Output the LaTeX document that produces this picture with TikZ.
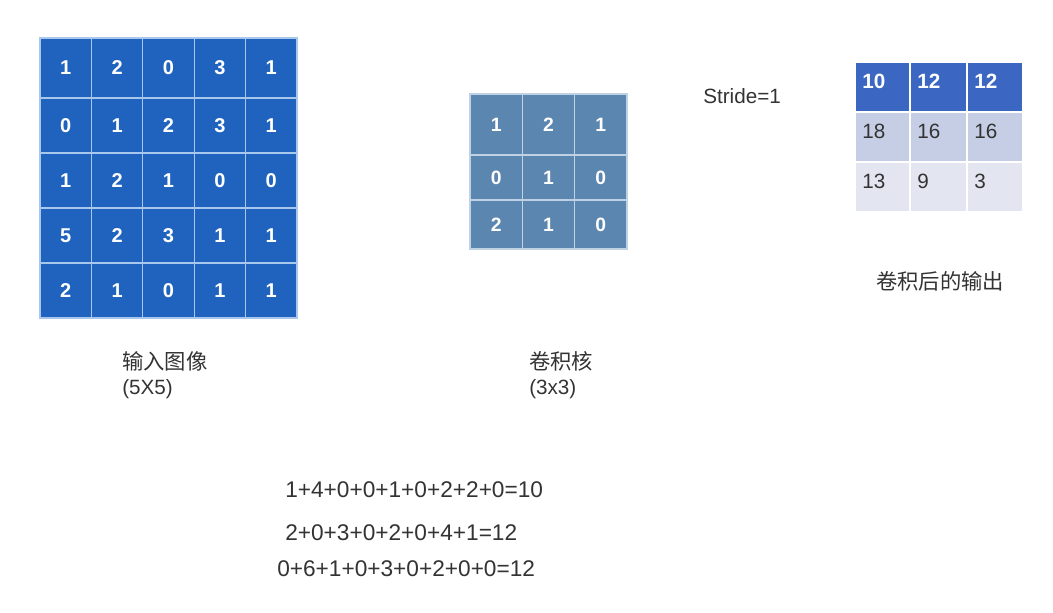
\documentclass[tikz,border=0pt]{standalone}
\usepackage{fontspec}
\setmainfont{Liberation Sans}
\newfontfamily\cjk{Noto Sans CJK SC}
\usetikzlibrary{calc}
\definecolor{inblue}{HTML}{1F63BF}
\definecolor{inline}{HTML}{A9C6EC}
\definecolor{kblue}{HTML}{5B86AF}
\definecolor{kline}{HTML}{BFD2E4}
\definecolor{ohead}{HTML}{3B66C2}
\definecolor{orow2}{HTML}{C6CEE6}
\definecolor{orow3}{HTML}{E3E6F1}
\definecolor{txt}{HTML}{333333}
\tikzset{
  cellbase/.style={rectangle, inner sep=0pt, outer sep=0pt, line width=1pt},
  incell/.style={cellbase, fill=inblue, draw=inline, text=white, font=\fontsize{15}{18}\selectfont\bfseries, minimum width=51.4*0.75pt},
  kcell/.style={cellbase, fill=kblue, draw=kline, text=white, font=\fontsize{14.5}{17}\selectfont\bfseries, minimum width=52.3*0.75pt},
  ocell/.style={cellbase, draw=white, minimum height=50*0.75pt},
  otxt1/.style={anchor=base west, inner sep=0pt, text=white, font=\fontsize{15.5}{18}\selectfont\bfseries},
  otxt/.style={anchor=base west, inner sep=0pt, text=txt, font=\fontsize{15.5}{18}\selectfont},
  lbl/.style={inner sep=0pt, text=txt, font=\fontsize{15.5}{18}\selectfont},
  eqlbl/.style={lbl, anchor=west, font=\fontsize{17}{20}\selectfont},
}
\begin{document}
\begin{tikzpicture}[x=0.75pt,y=0.75pt]
\useasboundingbox (0,0) rectangle (1053,-613);
% input image 5x5
\foreach \t/\b/\vals [count=\r] in {38/98/{1,2,0,3,1}, 98/153/{0,1,2,3,1}, 153/208/{1,2,1,0,0}, 208/263/{5,2,3,1,1}, 263/318/{2,1,0,1,1}}{
  \foreach \v [count=\c] in \vals {
    \node[incell, minimum height={(\b-\t)*0.75pt}] (in-\r-\c) at ({40+51.4*(\c-0.5)}, {-(\t+\b)/2}) {\v};
  }
}
% kernel 3x3
\foreach \t/\b/\vals [count=\r] in {94/155/{1,2,1}, 155/200/{0,1,0}, 200/249/{2,1,0}}{
  \foreach \v [count=\c] in \vals {
    \node[kcell, minimum height={(\b-\t)*0.75pt}] (k-\r-\c) at ({470+52.3*(\c-0.5)}, {-(\t+\b)/2}) {\v};
  }
}
% output 3x3
\foreach \l/\rr [count=\c] in {855/910, 910/967, 967/1023}{
  \node[ocell, fill=ohead, minimum width={(\rr-\l)*0.75pt}] (o-1-\c) at ({(\l+\rr)/2}, -87) {};
  \node[ocell, fill=orow2, minimum width={(\rr-\l)*0.75pt}] (o-2-\c) at ({(\l+\rr)/2}, -137) {};
  \node[ocell, fill=orow3, minimum width={(\rr-\l)*0.75pt}] (o-3-\c) at ({(\l+\rr)/2}, -187) {};
}
\foreach \v [count=\c] in {10,12,12}{
  \node[otxt1] (ot-1-\c) at ($(o-1-\c.west)+(7,-1.5)$) {\v};
}
\foreach \v [count=\c] in {18,16,16}{
  \node[otxt] (ot-2-\c) at ($(o-2-\c.west)+(7,-1.5)$) {\v};
}
\foreach \v [count=\c] in {13,9,3}{
  \node[otxt] (ot-3-\c) at ($(o-3-\c.west)+(7,-1.5)$) {\v};
}
% labels
\node[lbl, anchor=west] (stride) at (703,-96) {Stride=1};
\node[lbl, anchor=center, font=\cjk\fontsize{16}{19}\selectfont] (outlbl) at (940,-281) {卷积后的输出};
\node[lbl, anchor=west, font=\cjk\fontsize{16}{19}\selectfont] (inlbl) at (122,-361) {输入图像};
\node[lbl, anchor=west] (insz) at (122,-389) {(5X5)};
\node[lbl, anchor=west, font=\cjk\fontsize{16}{19}\selectfont] (klbl) at (529,-361) {卷积核};
\node[lbl, anchor=west] (ksz) at (529,-389) {(3x3)};
% equations
\node[eqlbl] (eq1) at (285,-490) {1+4+0+0+1+0+2+2+0=10};
\node[eqlbl] (eq2) at (285,-533) {2+0+3+0+2+0+4+1=12};
\node[eqlbl] (eq3) at (277,-569) {0+6+1+0+3+0+2+0+0=12};
\end{tikzpicture}
\end{document}
